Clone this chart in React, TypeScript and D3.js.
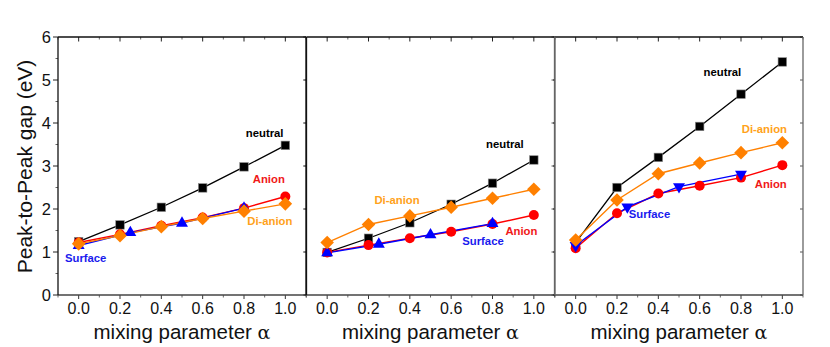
import React from "react";
import * as d3 from "d3";

const alphaMain = [0, 0.2, 0.4, 0.6, 0.8, 1.0];
const alphaSurface = [0, 0.25, 0.5, 0.8];

const p1Neutral = [1.24, 1.63, 2.04, 2.49, 2.98, 3.48];
const p1Anion = [1.22, 1.41, 1.61, 1.8, 2.02, 2.29];
const p1Dianion = [1.19, 1.38, 1.59, 1.78, 1.95, 2.12];
const p1Surface = [1.15, 1.45, 1.67, 2.02];

const p2Neutral = [0.99, 1.32, 1.68, 2.11, 2.6, 3.14];
const p2Anion = [0.99, 1.16, 1.32, 1.47, 1.65, 1.86];
const p2Dianion = [1.22, 1.64, 1.84, 2.04, 2.25, 2.46];
const p2Surface = [0.98, 1.18, 1.4, 1.66];

const p3Neutral = [1.22, 2.5, 3.2, 3.92, 4.67, 5.42];
const p3Anion = [1.09, 1.9, 2.36, 2.54, 2.73, 3.02];
const p3Dianion = [1.28, 2.21, 2.82, 3.07, 3.31, 3.54];
const p3Surface = [1.15, 2.05, 2.52, 2.81];

const xTicks = [0, 0.2, 0.4, 0.6, 0.8, 1.0];
const xMinorTicks = [-0.1, 0.1, 0.3, 0.5, 0.7, 0.9, 1.1];
const yTicks = [0, 1, 2, 3, 4, 5, 6];
const yMinorTicks = [0.5, 1.5, 2.5, 3.5, 4.5, 5.5];

const seriesNames = ["neutral", "Anion", "Surface", "Di-anion"];
// label anchors in data units: [alpha, value] per panel, order as seriesNames
const p1Labels = [[0.9, 3.67], [0.92, 2.6], [0.034, 0.77], [0.925, 1.63]];
const p2Labels = [[0.86, 3.42], [0.94, 1.4], [0.754, 1.16], [0.338, 2.12]];
const p3Labels = [[0.71, 5.09], [0.944, 2.49], [0.357, 1.79], [0.913, 3.77]];

const panels = [
  { neutral: p1Neutral, anion: p1Anion, dianion: p1Dianion, surface: p1Surface, labels: p1Labels, invTri: false },
  { neutral: p2Neutral, anion: p2Anion, dianion: p2Dianion, surface: p2Surface, labels: p2Labels, invTri: false },
  { neutral: p3Neutral, anion: p3Anion, dianion: p3Dianion, surface: p3Surface, labels: p3Labels, invTri: true },
];

const W = 830;
const H = 347;
const panelLefts = [58, 306.5, 555];
const panelW = 248;
const top = 37;
const bottom = 295;

const FONT = "Arial, 'Liberation Sans', Helvetica, sans-serif";
const C_NEUTRAL = "#000000";
const C_ANION = "#ff0000";
const C_SURF = "#0000ff";
const C_DI = "#ff8000";
const C_DI_TEXT = "#ffa21a";
const C_ANION_TEXT = "#f01818";
const C_SURF_TEXT = "#1a1aee";

const y = d3.scaleLinear().domain([0, 6]).range([bottom, top]);

function Panel({ idx }: { idx: number }) {
  const p = panels[idx];
  const left = panelLefts[idx];
  const x = d3.scaleLinear().domain([-0.1, 1.1]).range([left, left + panelW]);
  const line = (xs: number[], ys: number[]) =>
    d3.line<number>().x((_, i) => x(xs[i])).y((v) => y(v))(ys) || "";
  const tri = d3.symbol().type(d3.symbolTriangle).size(62);
  const triPath = tri() || "";
  const sq = 8.5;
  const dia = 6.8;
  const labelColors = [C_NEUTRAL, C_ANION_TEXT, C_SURF_TEXT, C_DI_TEXT];
  return (
    <g>
      <path d={line(alphaMain, p.neutral)} fill="none" stroke={C_NEUTRAL} strokeWidth={1.3} />
      <path d={line(alphaMain, p.anion)} fill="none" stroke={C_ANION} strokeWidth={1.4} />
      <path d={line(alphaSurface, p.surface)} fill="none" stroke={C_SURF} strokeWidth={1.4} />
      <path d={line(alphaMain, p.dianion)} fill="none" stroke={C_DI} strokeWidth={1.4} />
      {p.neutral.map((v, i) => (
        <rect key={"n" + i} x={x(alphaMain[i]) - sq / 2} y={y(v) - sq / 2} width={sq} height={sq}
          fill={C_NEUTRAL} stroke="#888" strokeWidth={0.6} />
      ))}
      {p.anion.map((v, i) => (
        <circle key={"a" + i} cx={x(alphaMain[i])} cy={y(v)} r={5} fill={C_ANION} />
      ))}
      {p.surface.map((v, i) => (
        <path key={"s" + i} d={triPath} fill={C_SURF}
          transform={`translate(${x(alphaSurface[i])},${y(v)})${p.invTri ? " rotate(180)" : ""}`} />
      ))}
      {p.dianion.map((v, i) => {
        const cx = x(alphaMain[i]);
        const cy = y(v);
        return (
          <path key={"d" + i}
            d={`M${cx},${cy - dia}L${cx + dia},${cy}L${cx},${cy + dia}L${cx - dia},${cy}Z`}
            fill={C_DI} />
        );
      })}
      {p.labels.map((l, i) => (
        <text key={"l" + i} x={x(l[0])} y={y(l[1])} textAnchor="middle" fontFamily={FONT}
          fontWeight="bold" fontSize={11.3} fill={labelColors[i]}>
          {seriesNames[i]}
        </text>
      ))}
      {xTicks.map((t) => (
        <line key={"tt" + t} x1={x(t)} x2={x(t)} y1={top} y2={top + 4.5} stroke="#222" strokeWidth={1} />
      ))}
      {xMinorTicks.map((t) => (
        <line key={"tm" + t} x1={x(t)} x2={x(t)} y1={top} y2={top + 2.5} stroke="#666" strokeWidth={1} />
      ))}
      {xTicks.map((t) => (
        <line key={"bt" + t} x1={x(t)} x2={x(t)} y1={bottom} y2={bottom + 4} stroke="#333" strokeWidth={1} />
      ))}
      {xMinorTicks.map((t) => (
        <line key={"bm" + t} x1={x(t)} x2={x(t)} y1={bottom} y2={bottom + 2.5} stroke="#666" strokeWidth={1} />
      ))}
      {xTicks.map((t) => (
        <text key={"xl" + t} x={x(t)} y={314} textAnchor="middle" fontFamily={FONT} fontSize={16} fill="#111">
          {d3.format(".1f")(t)}
        </text>
      ))}
      <text x={left + panelW / 2} y={339} textAnchor="middle" fontFamily={FONT} fontSize={20.5} fill="#111">
        mixing parameter <tspan fontFamily="'DejaVu Serif', 'Liberation Serif', serif" fontSize={19}>α</tspan>
      </text>
      {yTicks.map((t) => (
        <line key={"yl" + t} x1={left - (idx === 0 ? 5 : 2)} x2={left} y1={y(t)} y2={y(t)} stroke="#222" strokeWidth={1} />
      ))}
      {idx === 0 &&
        yMinorTicks.map((t) => (
          <line key={"ym" + t} x1={left - 2.5} x2={left} y1={y(t)} y2={y(t)} stroke="#666" strokeWidth={1} />
        ))}
      {yTicks.map((t) => (
        <line key={"yr" + t} x1={left + panelW - 3} x2={left + panelW} y1={y(t)} y2={y(t)} stroke="#555" strokeWidth={1} />
      ))}
      <line x1={left} x2={left + panelW} y1={top} y2={top} stroke="#111" strokeWidth={1.3} />
      <line x1={left} x2={left + panelW} y1={bottom} y2={bottom} stroke="#444" strokeWidth={1.3} />
      <line x1={left} x2={left} y1={top} y2={bottom} stroke={idx === 2 ? "#666" : "#111"} strokeWidth={1.3} />
      <line x1={left + panelW} x2={left + panelW} y1={top} y2={bottom} stroke={idx === 0 ? "#111" : "#666"} strokeWidth={1.3} />
    </g>
  );
}

export default function App() {
  return (
    <svg width={W} height={H} style={{ position: "absolute", left: 0, top: 0, background: "#fff" }}>
      <rect x={0} y={0} width={W} height={H} fill="#fff" />
      {yTicks.map((t) => (
        <text key={"yt" + t} x={51} y={y(t)} dy="0.36em" textAnchor="end" fontFamily={FONT} fontSize={16.5} fill="#111">
          {t}
        </text>
      ))}
      <text transform={`translate(32,${(top + bottom) / 2 + 0.5}) rotate(-90)`} textAnchor="middle"
        fontFamily={FONT} fontSize={21} fill="#111">
        Peak-to-Peak gap (eV)
      </text>
      {[0, 1, 2].map((i) => (
        <Panel key={i} idx={i} />
      ))}
    </svg>
  );
}
